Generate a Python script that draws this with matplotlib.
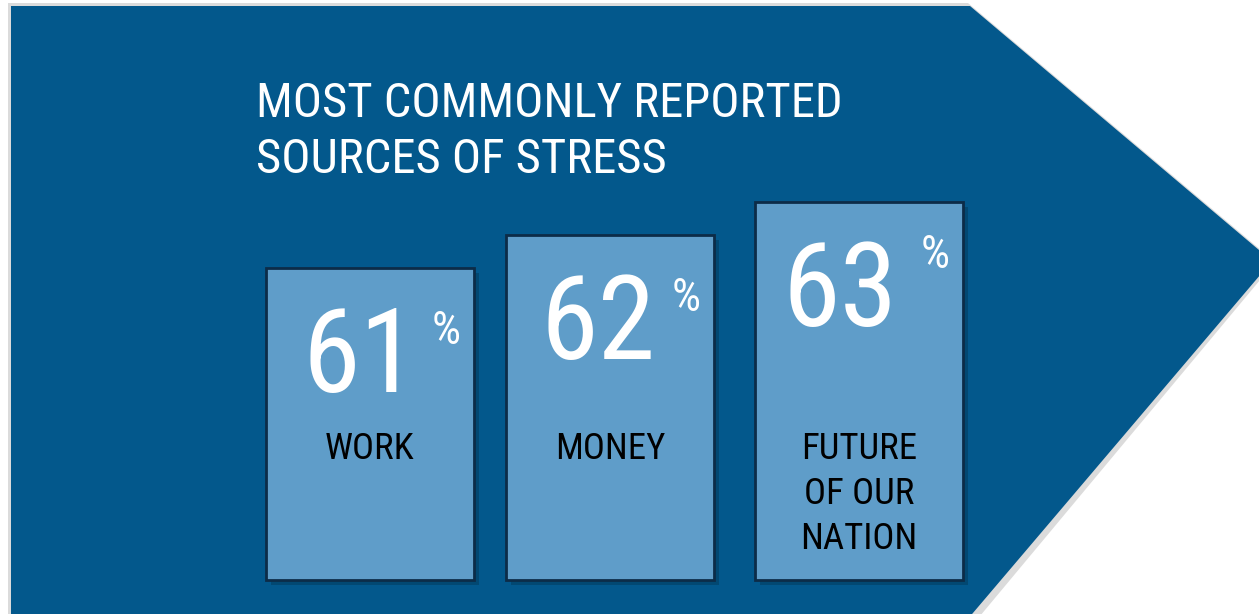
import matplotlib
matplotlib.use("Agg")
import matplotlib.pyplot as plt
import numpy as np
from matplotlib.patches import Polygon

plt.rcParams["font.family"] = ["Liberation Sans Narrow", "Roboto Condensed",
                               "Roboto", "DejaVu Sans"]

title_lines = ["MOST COMMONLY REPORTED", "SOURCES OF STRESS"]
categories = ["WORK", "MONEY", "FUTURE\nOF OUR\nNATION"]
values = [61, 62, 63]

W, H = 1259, 614
NAVY = "#03588c"
BAR = "#5f9dc9"
EDGE = "#0c2c48"

# bar layout (pixel x centres, value at bar foot)
centres = np.array([370, 610, 859])
width = 208
BASE = 51.54

fig = plt.figure(figsize=(W / 100, H / 100), dpi=100)
fig.patch.set_facecolor("white")

# background arrow, in pixel coordinates
bg = fig.add_axes([0, 0, 1, 1])
bg.set_xlim(0, W)
bg.set_ylim(H, 0)
bg.axis("off")
shadow = Polygon([(8, 3), (968, 3), (1275, 262), (960, 640), (8, 640)],
                 closed=True, facecolor="#c4c4c4", edgecolor="none", alpha=0.6)
bg.add_patch(shadow)
arrow = Polygon([(11, 6), (970, 6), (1272, 261), (950, 640), (11, 640)],
                closed=True, facecolor=NAVY, edgecolor="none")
bg.add_patch(arrow)
for i, line in enumerate(title_lines):
    bg.text(256, 117 + 56 * i, line, color="white", fontsize=35,
            va="baseline", ha="left")

# bars, in value coordinates
ax = fig.add_axes([0, 0, 1, 1])
ax.set_xlim(0, W)
ax.set_ylim(BASE - 34 / 33, BASE + 580 / 33)
ax.axis("off")
vals = np.array(values, dtype=float)
ax.bar(centres + 5, vals - BASE, bottom=BASE - 0.15, width=width,
       color="black", alpha=0.18, linewidth=0)
ax.bar(centres, vals - BASE, bottom=BASE, width=width, color=BAR,
       edgecolor=EDGE, linewidth=2)

num_dx = [-10, -12, -19]
pct_dy = [-76, -76, -66]
for xc, v, lab, dx, dy in zip(centres, values, categories, num_dx, pct_dy):
    ax.annotate(f"{v}", (xc, v), xytext=(dx, -124), textcoords="offset pixels",
                ha="center", va="baseline", color="white", fontsize=84)
    ax.annotate("%", (xc, v), xytext=(76, dy), textcoords="offset pixels",
                ha="center", va="baseline", color="white", fontsize=33)
    for i, line in enumerate(lab.split("\n")):
        ax.text(xc, BASE + (580 - 459 - 45 * i) / 33, line, ha="center",
                va="baseline", color="black", fontsize=26.5)

fig.savefig("out.png", dpi=100, facecolor=fig.get_facecolor())
